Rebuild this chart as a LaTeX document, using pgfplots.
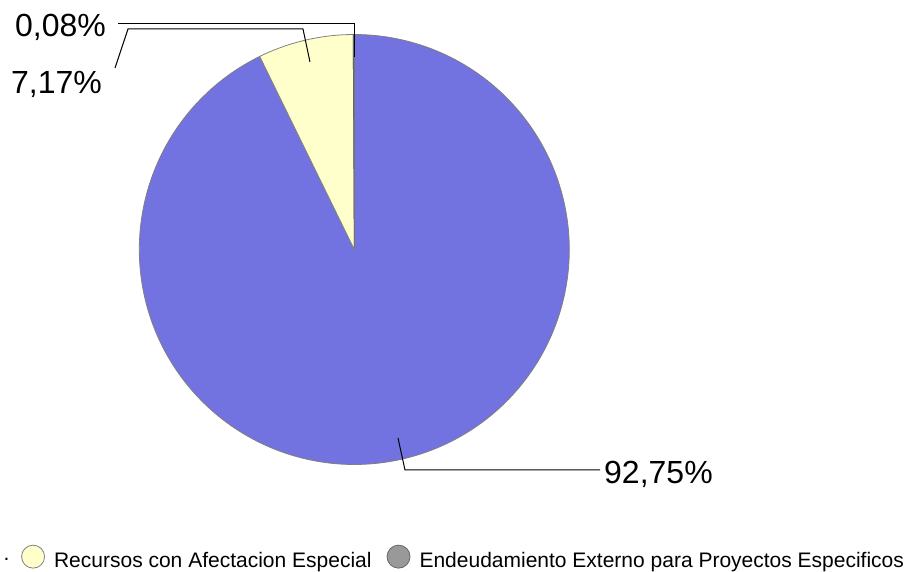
\documentclass[border=0pt]{standalone}
\usepackage{pgfplots}
\pgfplotsset{compat=1.18}
\usepackage{pgfplotstable}
\usepackage{fontspec}
\setmainfont{Liberation Sans}
\definecolor{pieblue}{RGB}{114,114,224}
\definecolor{pieyellow}{RGB}{255,255,204}
\definecolor{piegray}{RGB}{153,153,153}
\definecolor{edgegray}{RGB}{128,128,128}
\pgfplotstableread{
label value
Tesoro 92.75
Recursos 7.17
Endeudamiento 0.08
}\piedata
\begin{document}
\begin{tikzpicture}
\pgfplotstablegetelem{0}{value}\of\piedata \let\va\pgfplotsretval
\pgfplotstablegetelem{1}{value}\of\piedata \let\vb\pgfplotsretval
\pgfplotstablegetelem{2}{value}\of\piedata \let\vc\pgfplotsretval
\pgfmathsetmacro{\aA}{90}
\pgfmathsetmacro{\aB}{\aA-3.6*\va}
\pgfmathsetmacro{\aC}{\aB-3.6*\vb}
\pgfmathsetmacro{\aD}{\aC-3.6*\vc}
\def\cx{354.3}\def\cy{321.5}\def\rr{215}
\begin{axis}[
  at={(0,0)}, anchor=south west,
  scale only axis, width=916pt, height=571pt,
  xmin=0, xmax=916, ymin=0, ymax=571,
  hide axis, clip=false,
  legend columns=-1,
  legend style={draw=none, fill=none, at={(axis cs:904,2.5)}, anchor=south east,
    font=\fontsize{21}{25}\selectfont, inner sep=0pt, outer sep=0pt,
    nodes={inner sep=0pt},
    /tikz/every odd column/.append style={column sep=10pt},
    /tikz/every even column/.append style={column sep=16pt}},
  legend image code/.code={\path[draw=none, fill=none] (0pt,-5pt) rectangle (22pt,19pt);
     \draw[#1, overlay] (11pt,3.5pt) circle (11.5pt);},
]
\addplot[fill=pieblue, draw=edgegray, line width=0.8pt, domain=\aB:\aA, samples=240, variable=\t]
  ({\cx+\rr*cos(\t)},{\cy+\rr*sin(\t)}) -- (axis cs:\cx,\cy) -- cycle;
\addlegendentry{.\kern-3.5pt}
\addplot[fill=pieyellow, draw=edgegray, line width=0.8pt, domain=\aC:\aB, samples=30, variable=\t]
  ({\cx+\rr*cos(\t)},{\cy+\rr*sin(\t)}) -- (axis cs:\cx,\cy) -- cycle;
\addlegendentry{Recursos con Afectacion Especial}
\addplot[fill=piegray, draw=edgegray!80!black, line width=0.8pt, domain=\aD:\aC, samples=3, variable=\t]
  ({\cx+\rr*cos(\t)},{\cy+\rr*sin(\t)}) -- (axis cs:\cx,\cy) -- cycle;
\addlegendentry{Endeudamiento Externo para Proyectos Especificos}
% leader lines
\draw[black, line width=1pt] (axis cs:118,547) -- (axis cs:354,547) -- (axis cs:354,514);
\draw[black, line width=1pt] (axis cs:115,503) -- (axis cs:128,542) -- (axis cs:303,542) -- (axis cs:310,509);
\draw[black, line width=1pt] (axis cs:398,133) -- (axis cs:405,101) -- (axis cs:600,101);
\node[anchor=base east, inner sep=0pt, font=\fontsize{32}{38}\selectfont] at (axis cs:106,534) {0,08\%};
\node[anchor=base east, inner sep=0pt, font=\fontsize{32}{38}\selectfont] at (axis cs:102,477) {7,17\%};
\node[anchor=base west, inner sep=0pt, font=\fontsize{32}{38}\selectfont] at (axis cs:604,88) {92,75\%};
\end{axis}
\pgfresetboundingbox
\useasboundingbox (0,0) rectangle (916pt,571pt);
\end{tikzpicture}
\end{document}
